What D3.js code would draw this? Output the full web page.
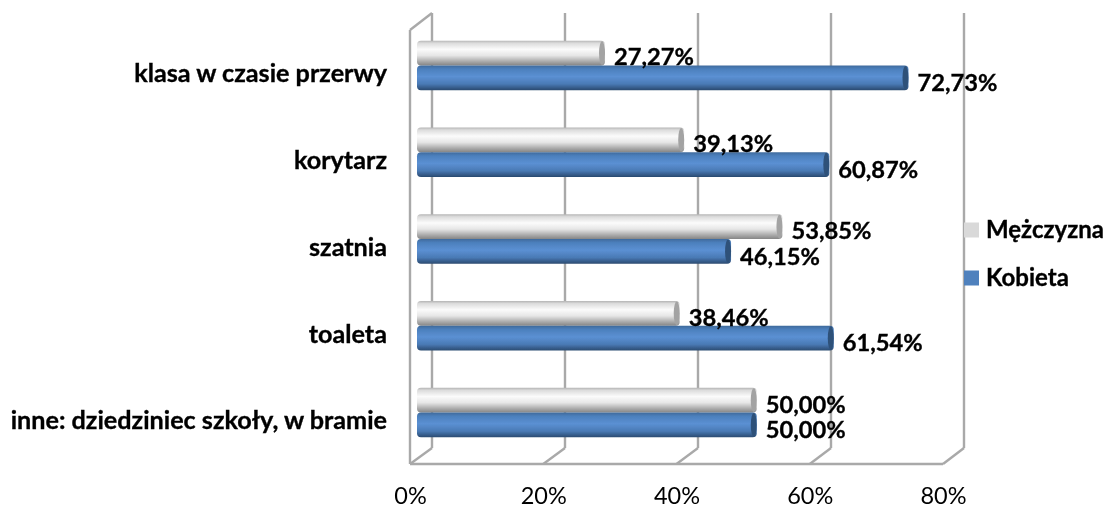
<!DOCTYPE html>
<meta charset="utf-8">
<style>
    html, body { margin: 0; padding: 0; background: #fff; }
    svg { display: block; font-family: Lato, "Open Sans", sans-serif; }
</style>
<script src="https://d3js.org/d3.v7.min.js"></script>
<div id="chart"></div>
<script>
    // data
    const categories = ["klasa w czasie przerwy", "korytarz", "szatnia", "toaleta", "inne: dziedziniec szkoły, w bramie"];
    const seriesNames = ["Mężczyzna", "Kobieta"];
    const menValues = [27.27, 39.13, 53.85, 38.46, 50.00];
    const womenValues = [72.73, 60.87, 46.15, 61.54, 50.00];
    const xTicks = [0, 20, 40, 60, 80];

    const width = 1107, height = 507;
    const svg = d3.select("#chart").append("svg")
        .attr("width", width)
        .attr("height", height);

    const defs = svg.append("defs");
    function gradient(id, stops) {
        const g = defs.append("linearGradient").attr("id", id)
            .attr("x1", 0).attr("y1", 0).attr("x2", 0).attr("y2", 1);
        stops.forEach(s => g.append("stop").attr("offset", s[0]).attr("stop-color", s[1]));
    }
    gradient("gradMen", [[0, "#b5b5b5"], [0.1, "#dcdcdc"], [0.35, "#fbfbfb"], [0.6, "#e6e6e6"], [0.85, "#a8a8a8"], [1, "#858585"]]);
    gradient("gradWomen", [[0, "#3f6a9c"], [0.15, "#4c80bd"], [0.45, "#5b90d3"], [0.75, "#4a7ab5"], [1, "#2a4a70"]]);
    defs.append("filter").attr("id", "soft")
        .attr("filterUnits", "userSpaceOnUse")
        .attr("x", 0).attr("y", 0)
        .attr("width", width).attr("height", height)
      .append("feGaussianBlur").attr("stdDeviation", 0.55);

    const root = svg.append("g").attr("filter", "url(#soft)");

    // three x scales: front edge of the floor, back wall, and the plane the bars stand in
    const xFront = d3.scaleLinear().domain([0, 80]).range([410, 943]);
    const xBack = d3.scaleLinear().domain([0, 80]).range([432, 964]);
    const xBar = d3.scaleLinear().domain([0, 80]).range([419, 953]);

    const y = d3.scaleBand().domain(categories).range([22, 456]).paddingInner(0.43).paddingOuter(0.215);
    const ySub = d3.scaleBand().domain(seriesNames).range([0, y.bandwidth()]);

    const backTop = 13, backBottom = 448, frontTop = 30, frontBottom = 464;
    const wallColor = "#a9a9a9";

    // walls and gridlines
    const walls = root.append("g").attr("fill", "none").attr("stroke", wallColor).attr("stroke-width", 2.4);
    walls.selectAll("line.grid").data(xTicks).join("line")
        .attr("class", "grid")
        .attr("x1", d => xBack(d)).attr("x2", d => xBack(d))
        .attr("y1", backTop).attr("y2", backBottom);
    walls.selectAll("line.floor").data(xTicks).join("line")
        .attr("class", "floor")
        .attr("x1", d => xBack(d)).attr("x2", d => xFront(d))
        .attr("y1", backBottom).attr("y2", frontBottom);
    walls.append("line").attr("x1", xFront(0)).attr("x2", xFront(80)).attr("y1", frontBottom).attr("y2", frontBottom);
    walls.append("line").attr("x1", xFront(0)).attr("x2", xFront(0)).attr("y1", frontTop).attr("y2", frontBottom);
    walls.append("line").attr("x1", xFront(0)).attr("x2", xBack(0)).attr("y1", frontTop).attr("y2", backTop);

    // bars, grey and blue for each category
    const series = [
        {name: seriesNames[0], values: menValues, fill: "url(#gradMen)", cap: "#a3a3a3", labelDy: 4},
        {name: seriesNames[1], values: womenValues, fill: "url(#gradWomen)", cap: "#2f5179", labelDy: 5}
    ];
    const barStart = 417;
    series.forEach(s => {
        const g = root.append("g");
        const rows = categories.map((c, i) => ({c: c, v: s.values[i]}));
        g.selectAll("rect").data(rows).join("rect")
            .attr("x", barStart)
            .attr("y", d => y(d.c) + ySub(s.name))
            .attr("width", d => xBar(d.v) + 4 - barStart)
            .attr("height", ySub.bandwidth())
            .attr("rx", 4)
            .attr("fill", s.fill);
        g.selectAll("ellipse").data(rows).join("ellipse")
            .attr("cx", d => xBar(d.v) + 1)
            .attr("cy", d => y(d.c) + ySub(s.name) + ySub.bandwidth() / 2)
            .attr("rx", 3)
            .attr("ry", ySub.bandwidth() / 2 - 0.5)
            .attr("fill", s.cap);
    });

    // value labels go on top of the bars
    series.forEach(s => {
        root.append("g").selectAll("text")
            .data(categories.map((c, i) => ({c: c, v: s.values[i]})))
            .join("text")
            .attr("x", d => xBar(d.v) + 13)
            .attr("y", d => y(d.c) + ySub(s.name) + ySub.bandwidth() / 2 + s.labelDy)
            .attr("dy", "0.35em")
            .attr("font-size", 23.7)
            .attr("font-weight", 700)
            .attr("fill", "#000")
            .attr("stroke", "#000")
            .attr("stroke-width", 0.35)
            .text(d => d.v.toFixed(2).replace(".", ",") + "%");
    });

    // category labels
    root.append("g").selectAll("text").data(categories).join("text")
        .attr("x", 387)
        .attr("y", d => y(d) + y.bandwidth() / 2 + 8)
        .attr("dy", "0.35em")
        .attr("text-anchor", "end")
        .attr("font-size", 25.2)
        .attr("font-weight", 700)
        .attr("fill", "#000")
        .attr("stroke", "#000")
        .attr("stroke-width", 0.35)
        .text(d => d);

    // x axis
    const axis = root.append("g")
        .attr("transform", `translate(0, ${frontBottom + 20})`)
        .call(d3.axisBottom(xFront).tickValues(xTicks).tickSize(0).tickFormat(d => d + "%"));
    axis.select(".domain").remove();
    axis.selectAll("text").attr("font-family", "Lato, sans-serif").attr("font-size", 23.5).attr("fill", "#000");

    // legend
    const legendColors = ["#d9d9d9", "#4f81bd"];
    const legendY = d3.scalePoint().domain(seriesNames).range([230, 278]);
    const legend = root.append("g");
    legend.selectAll("rect").data(seriesNames).join("rect")
        .attr("x", 964).attr("y", d => legendY(d) - 7.5)
        .attr("width", 15).attr("height", 15)
        .attr("fill", (d, i) => legendColors[i]);
    legend.selectAll("text").data(seriesNames).join("text")
        .attr("x", 986).attr("y", d => legendY(d))
        .attr("dy", "0.35em")
        .attr("font-size", 24)
        .attr("font-weight", 700)
        .attr("fill", "#000")
        .attr("stroke", "#000")
        .attr("stroke-width", 0.35)
        .text(d => d);
</script>
